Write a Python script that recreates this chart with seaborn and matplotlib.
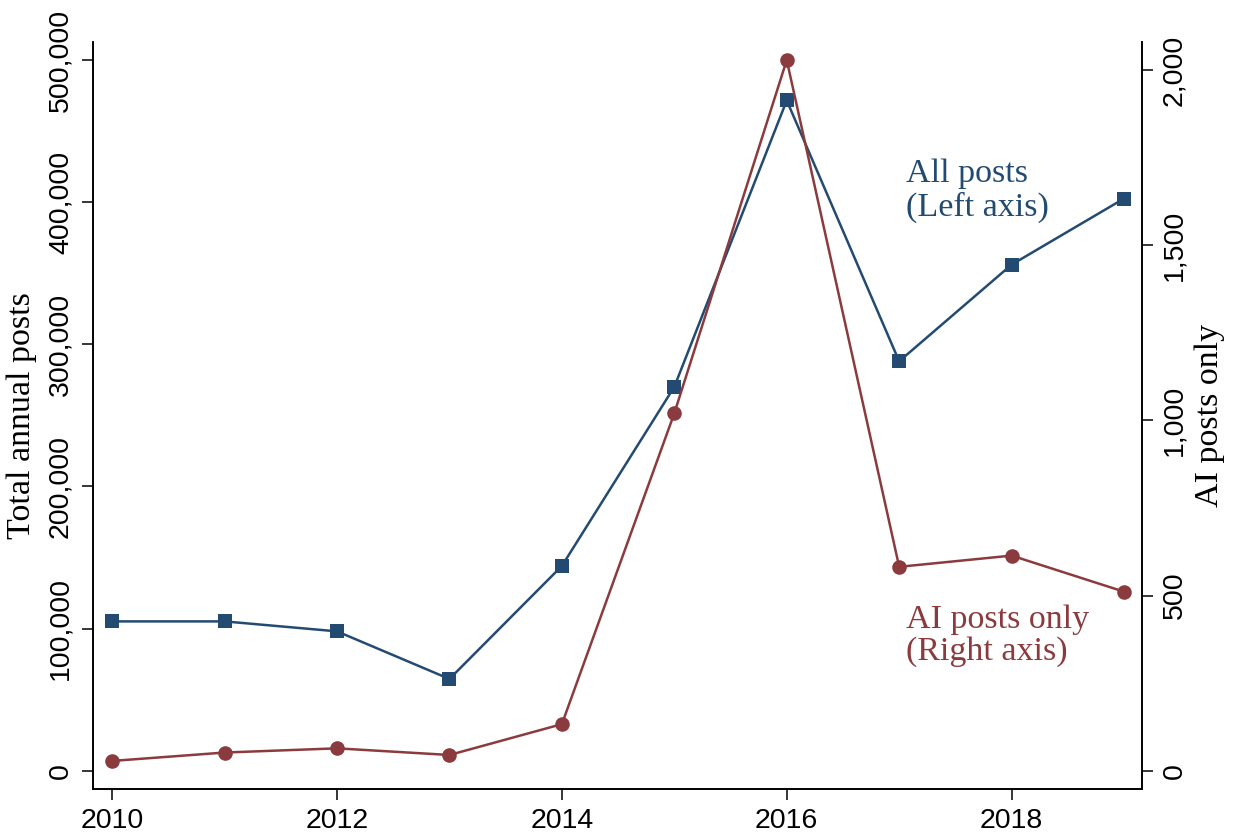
import matplotlib
matplotlib.use("Agg")
import matplotlib.pyplot as plt
import matplotlib.ticker as mticker
import numpy as np
import pandas as pd
import seaborn as sns

# Annual posting volume, 2010-2019
years = [2010, 2011, 2012, 2013, 2014, 2015, 2016, 2017, 2018, 2019]
all_posts = [105000, 105000, 98000, 64500, 144000, 270000, 471500, 288000, 356000, 402500]
ai_posts = [28, 52, 64, 45, 133, 1020, 2028, 582, 614, 511]

x_ticks = [2010, 2012, 2014, 2016, 2018]
left_ticks = [0, 100000, 200000, 300000, 400000, 500000]
right_ticks = [0, 500, 1000, 1500, 2000]

BLUE = "#234b72"
RED = "#8b3b3e"
SERIF = "Liberation Serif"
SANS = "Liberation Sans"

sns.set_theme(style="ticks")
plt.rcParams["font.family"] = [SANS, "DejaVu Sans"]

df = pd.DataFrame({"year": years, "all": all_posts, "ai": ai_posts})

fig = plt.figure(figsize=(12.4, 8.38), dpi=100)
ax = fig.add_axes([0.075, 0.0585, 0.846, 0.8915])
ax2 = ax.twinx()

sns.lineplot(data=df, x="year", y="all", ax=ax, color=BLUE, marker="s",
             markersize=10, markeredgewidth=0, linewidth=1.8, zorder=3)
sns.lineplot(data=df, x="year", y="ai", ax=ax2, color=RED, marker="o",
             markersize=10.5, markeredgewidth=0, linewidth=1.8, zorder=3)

ax.set_xlim(2009.83, 2019.16)
ax.set_ylim(-12900, 512700)
ax2.set_ylim(-52, 2080)

ax.set_xticks(x_ticks)
ax.set_yticks(left_ticks)
ax2.set_yticks(right_ticks)

fmt = mticker.FuncFormatter(lambda v, p: f"{int(v):,}")
ax.yaxis.set_major_formatter(fmt)
ax2.yaxis.set_major_formatter(fmt)

for a in (ax, ax2):
    a.spines["top"].set_visible(False)
    for s in a.spines.values():
        s.set_linewidth(1.2)
        s.set_color("black")
    a.tick_params(length=8, width=1.1, color="black", labelsize=20.5,
                  labelcolor="black", pad=6)
    a.set_xlabel("")

for lbl in ax.get_yticklabels():
    lbl.set_rotation(90)
    lbl.set_va("center")
for lbl in ax2.get_yticklabels():
    lbl.set_rotation(90)
    lbl.set_va("center")

ax.set_ylabel("Total annual posts", fontsize=24.5, family=SERIF, color="black")
ax.yaxis.set_label_coords(-0.053, 0.5)
ax2.set_ylabel("AI posts only", fontsize=24.5, family=SERIF, color="black")
ax2.yaxis.set_label_coords(1.05, 0.5)

ax.text(2017.06, 408000, "All posts\n(Left axis)", color=BLUE, family=SERIF,
        fontsize=24.5, ha="left", va="center", linespacing=1.08)
ax.text(2017.06, 95000, "AI posts only\n(Right axis)", color=RED, family=SERIF,
        fontsize=24.5, ha="left", va="center", linespacing=1.08)

fig.savefig("out.png", dpi=100, facecolor="white")
